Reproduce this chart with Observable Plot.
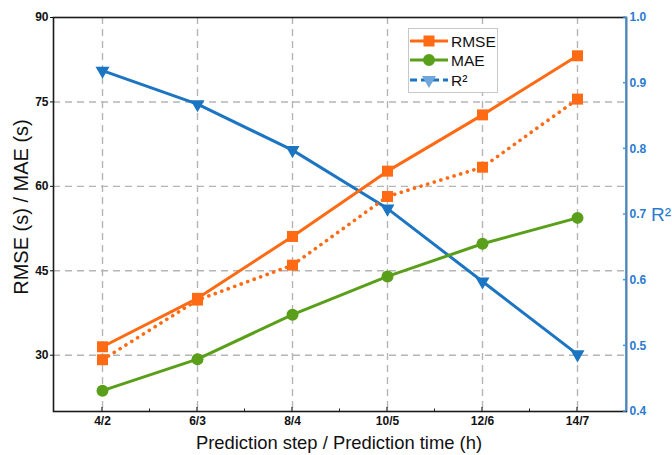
<!DOCTYPE html>
<html><head><meta charset="utf-8">
<script src="https://cdn.jsdelivr.net/npm/d3@7"></script>
<script src="https://cdn.jsdelivr.net/npm/@observablehq/plot@0.6"></script>
<style>
body{margin:0;background:#fff;font-family:"Liberation Sans",Arial,sans-serif;}
#wrap{position:relative;width:672px;height:455px;overflow:hidden;}
.lbl{position:absolute;white-space:nowrap;color:#111;}
</style></head><body><div id="wrap"></div>
<script>
// ---- data ----
const steps = ["4/2","6/3","8/4","10/5","12/6","14/7"];
const rmse = [31.5,40.1,51.1,62.7,72.7,83.2];
const rmseDotted = [29.2,39.8,46.0,58.2,63.4,75.5];
const mae = [23.7,29.3,37.2,44.0,49.8,54.4];
const r2 = [0.919,0.868,0.798,0.709,0.598,0.487];
const leftTicks = [30,45,60,75,90];
const rightTicks = [0.4,0.5,0.6,0.7,0.8,0.9,1.0];
const leftDomain = [20,90];
const rightDomain = [0.4,1.0];
const legendLabels = ["RMSE","MAE","R²"];

const ORANGE = "#ff6a14", GREEN = "#5a9f1a", BLUE = "#1b75c2", AXISBLUE = "#4b96dc", TICKBLUE = "#2a7cd0";
const toLeft = r => leftDomain[0] + (r - rightDomain[0]) / (rightDomain[1] - rightDomain[0]) * (leftDomain[1] - leftDomain[0]);
const toRight = v => rightDomain[0] + (v - leftDomain[0]) / (leftDomain[1] - leftDomain[0]) * (rightDomain[1] - rightDomain[0]);
const rows = vals => steps.map((s, i) => ({step: s, v: vals[i]}));
const rmseRows = rows(rmse), dotRows = rows(rmseDotted), maeRows = rows(mae), r2Rows = rows(r2.map(toLeft));

function extras(index, scales, values, dims) {
  const x = scales.x, y = scales.y;
  const g = d3.create("svg:g");
  const yb = dims.height - dims.marginBottom;
  const xr = dims.width - dims.marginRight;
  steps.forEach((s, i) => {
    g.append("line").attr("x1", x(s)).attr("x2", x(s)).attr("y1", yb).attr("y2", yb - 4).attr("stroke", "#222").attr("stroke-width", 1.2);
    if (i < steps.length - 1) {
      const m = (x(s) + x(steps[i + 1])) / 2;
      g.append("line").attr("x1", m).attr("x2", m).attr("y1", yb).attr("y2", yb - 2.5).attr("stroke", "#222").attr("stroke-width", 1);
    }
  });
  g.append("line").attr("x1", xr).attr("x2", xr).attr("y1", dims.marginTop).attr("y2", yb).attr("stroke", AXISBLUE).attr("stroke-width", 1.8);
  rightTicks.forEach(t => {
    g.append("line").attr("x1", xr - 3).attr("x2", xr).attr("y1", y(toLeft(t))).attr("y2", y(toLeft(t))).attr("stroke", AXISBLUE).attr("stroke-width", 1.5);
  });
  return g.node();
}

const chart = Plot.plot({
  width: 672, height: 455,
  marginTop: 17, marginBottom: 44, marginLeft: 53, marginRight: 46,
  style: {fontFamily: "'Liberation Sans', Arial, sans-serif", fontSize: "12px", fontWeight: "bold", background: "#fff", color: "#111"},
  x: {type: "point", domain: steps, padding: 0.5},
  y: {domain: leftDomain},
  marks: [
    Plot.gridX(steps, {stroke: "#b5b5b5", strokeOpacity: 1, strokeWidth: 1.4, strokeDasharray: "7,5"}),
    Plot.gridY(leftTicks.slice(0, -1), {stroke: "#b5b5b5", strokeOpacity: 1, strokeWidth: 1.4, strokeDasharray: "7,5"}),
    Plot.line(r2Rows, {x: "step", y: "v", stroke: BLUE, strokeWidth: 3}),
    Plot.line(maeRows, {x: "step", y: "v", stroke: GREEN, strokeWidth: 3}),
    Plot.line(dotRows, {x: "step", y: "v", stroke: ORANGE, strokeWidth: 3.6, strokeDasharray: "0.1,6.8", strokeLinecap: "round"}),
    Plot.line(rmseRows, {x: "step", y: "v", stroke: ORANGE, strokeWidth: 3}),
    Plot.dot(r2Rows, {x: "step", y: "v", symbol: "triangle", rotate: 180, r: 5.2, fill: BLUE, stroke: "none"}),
    Plot.dot(maeRows, {x: "step", y: "v", symbol: "circle", r: 6, fill: GREEN, stroke: "none"}),
    Plot.dot(dotRows, {x: "step", y: "v", symbol: "square", r: 6.2, fill: ORANGE, stroke: "none"}),
    Plot.dot(rmseRows, {x: "step", y: "v", symbol: "square", r: 6.2, fill: ORANGE, stroke: "none"}),
    Plot.frame({stroke: "#1a1a1a", strokeWidth: 1.6}),
    extras,
    Plot.axisX({anchor: "bottom", tickSize: 0, tickPadding: 5, label: null}),
    Plot.axisY({anchor: "left", ticks: leftTicks, tickSize: 3, tickPadding: 2, label: null}),
    Plot.axisY({anchor: "right", ticks: rightTicks.map(toLeft), tickFormat: d => toRight(d).toFixed(1), tickSize: 0, tickPadding: 3, fill: TICKBLUE, label: null})
  ]
});

const wrap = document.getElementById("wrap");
wrap.appendChild(chart);

// axis titles
const xt = document.createElement("div");
xt.className = "lbl";
xt.textContent = "Prediction step / Prediction time (h)";
Object.assign(xt.style, {left: "339px", top: "443px", fontSize: "18.4px", transform: "translate(-50%,-50%)"});
wrap.appendChild(xt);

const yt = document.createElement("div");
yt.className = "lbl";
yt.textContent = "RMSE (s) / MAE (s)";
Object.assign(yt.style, {left: "21px", top: "207px", fontSize: "20px", transform: "translate(-50%,-50%) rotate(-90deg)"});
wrap.appendChild(yt);

const rt = document.createElement("div");
rt.className = "lbl";
rt.textContent = "R²";
Object.assign(rt.style, {left: "651px", top: "215px", fontSize: "19px", color: TICKBLUE, transform: "translate(0,-50%)"});
wrap.appendChild(rt);

// legend
const lg = document.createElement("div");
Object.assign(lg.style, {position: "absolute", left: "408px", top: "28px", width: "88px", height: "63px", border: "1px solid #c8c8c8", background: "#fff"});
wrap.appendChild(lg);
const ls = d3.select(lg).append("svg").attr("width", 88).attr("height", 63).style("display", "block");
const ly = [12, 31, 51];
const lcol = [ORANGE, GREEN, BLUE];
legendLabels.forEach((t, i) => {
  ls.append("line").attr("x1", 1).attr("x2", 39).attr("y1", ly[i]).attr("y2", ly[i])
    .attr("stroke", lcol[i]).attr("stroke-width", 3).attr("stroke-dasharray", i === 2 ? "7,4" : null);
  const sym = i === 0 ? d3.symbolSquare : i === 1 ? d3.symbolCircle : d3.symbolTriangle;
  const size = i === 0 ? 121 : i === 1 ? 113 : 85;
  ls.append("path").attr("d", d3.symbol(sym, size)()).attr("transform", `translate(20,${ly[i]})${i === 2 ? " rotate(180)" : ""}`)
    .attr("fill", i === 2 ? "#6fa6dc" : lcol[i]);
  ls.append("text").attr("x", 42).attr("y", ly[i]).attr("dy", "0.36em").attr("font-size", "15.5px")
    .attr("font-family", "'Liberation Sans', Arial, sans-serif").attr("fill", "#111").text(t);
});
</script>
</body></html>
